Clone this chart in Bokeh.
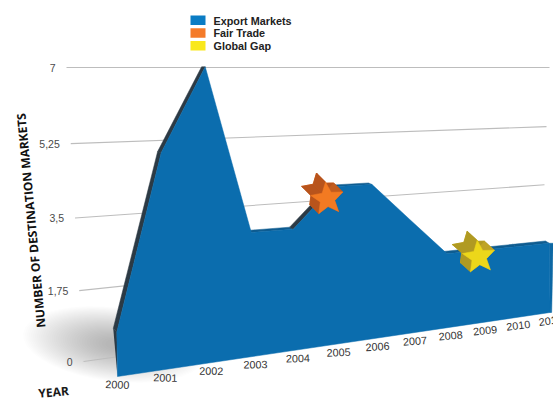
import math
from bokeh.core.properties import value
from bokeh.embed import file_html
from bokeh.models import Range1d
from bokeh.plotting import figure
from bokeh.resources import INLINE

# Series
years = [2000, 2001, 2002, 2003, 2004, 2005, 2006, 2007, 2008, 2009, 2010, 2011]
export_markets = [1, 5, 7, 3, 3, 4, 4, 3, 2, 2, 2, 2]
fair_trade = (2004.85, 3.7)
global_gap = (2008.9, 1.82)

value_ticks = [0, 1.75, 3.5, 5.25, 7]
value_tick_labels = ["0", "1,75", "3,5", "5,25", "7"]
legend_labels = ["Export Markets", "Fair Trade", "Global Gap"]

BLUE = "#0b6dae"
FONT_LIGHT = "#4a4a4a"


def project(year, val):
    """Perspective mapping of (year, value) on the front wall to page pixels."""
    t = year - years[0]
    base_x = 117 + 47.9 * t / (1 + 0.0198 * t)
    base_y = 376 - 0.148 * (base_x - 117)
    h = val * 44.5 / (1 + 0.026 * t)
    return base_x - 0.015 * h, base_y - h


def extrude(x, y):
    """Offset a front point along the depth direction."""
    return x - 3.6, y - (y - 67) * 0.013


p = figure(width=553, height=399, output_backend="svg", toolbar_location=None,
           x_range=Range1d(0, 553), y_range=Range1d(399, 0), min_border=0)
p.axis.visible = False
p.grid.visible = False
p.outline_line_color = None
p.background_fill_color = "white"
p.border_fill_color = "white"

# Soft ground shadow left of the wall
layers = 36
for i in range(layers):
    k = (1 - i / layers) ** 0.8
    a, b = 88 * k + 4, 34 * k + 3
    rot = math.radians(7)
    pts = [(a * math.cos(q / 36 * 2 * math.pi), b * math.sin(q / 36 * 2 * math.pi)) for q in range(36)]
    p.patch([114 + u * math.cos(rot) - v * math.sin(rot) for u, v in pts],
            [344 + u * math.sin(rot) + v * math.cos(rot) for u, v in pts],
            fill_color="#3c3c3c", fill_alpha=0.012, line_color=None)


# Back-wall gridlines converge on a vanishing point on the horizon
def grid_left(v):
    return 83 - v / 7 * 17, 361 - 40.0 * v - 0.286 * v * v


for v, label in zip(value_ticks, value_tick_labels):
    x0, y0 = grid_left(v)
    x1 = {0: 300, 1.75: 300, 3.5: 544, 5.25: 546, 7: 549}[v]
    y1 = y0 + (67 - y0) * (x1 - x0) / (2200 - x0)
    p.line([x0, x1], [y0, y1], line_color="#bdbdbd", line_width=1.1)
    p.text([x0 - 11], [y0 + 0.5], text=[label], text_align="right", text_baseline="middle",
           text_font=value("Liberation Sans"), text_font_size="10.5px", text_color=FONT_LIGHT)

# Extruded depth of the top edge
tops = [project(y, v) for y, v in zip(years, export_markets)]
base_left = project(years[0], 0)
base_right = project(years[-1], 0)

x0, y0 = tops[0]
ex, ey = extrude(x0, y0)
p.patch([x0, ex, base_left[0]], [y0, ey, base_left[1]], fill_color="#2c3a45", line_color=None)
for (xa, ya), (xb, yb) in zip(tops[:-1], tops[1:]):
    slope = (ya - yb) / (xb - xa)
    if slope < -0.2:
        continue
    colour = "#2c3a45" if slope > 1 else "#1c5378" if slope > 0.3 else "#0f5c90"
    eax, eay = extrude(xa, ya)
    ebx, eby = extrude(xb, yb)
    p.patch([xa, eax, ebx, xb], [ya, eay, eby, yb], fill_color=colour, line_color=colour, line_width=0.5)

# Front face of the area, with its narrow right-hand return
p.patch([tops[-1][0], tops[-1][0] + 4, base_right[0] + 1.5, base_right[0]],
        [tops[-1][1], tops[-1][1], base_right[1], base_right[1]],
        fill_color="#0d68a4", line_color="#0d68a4", line_width=0.5)
p.patch([t[0] for t in tops] + [base_right[0], base_left[0]],
        [t[1] for t in tops] + [base_right[1], base_left[1]],
        fill_color=BLUE, line_color=BLUE, line_width=0.5)


def star(cx, cy, radius, turn):
    pts = []
    for i in range(10):
        r = radius if i % 2 == 0 else radius * 0.45
        ang = math.radians(-90 + turn + i * 36)
        pts.append((cx + r * math.cos(ang), cy + r * math.sin(ang)))
    return pts


def draw_star(where, face, top, side, back, depth):
    cx, cy = project(*where)
    front = star(cx, cy, 17, -6)
    rear = [(x + depth[0], y + depth[1]) for x, y in front]
    p.patch([q[0] for q in rear], [q[1] for q in rear], fill_color=back, line_color=back)
    for i in range(10):
        a, b = front[i], front[(i + 1) % 10]
        ra, rb = rear[i], rear[(i + 1) % 10]
        shade = top if (b[0] - a[0]) > 0 else side
        p.patch([a[0], b[0], rb[0], ra[0]], [a[1], b[1], rb[1], ra[1]],
                fill_color=shade, line_color=shade, line_width=0.4)
    p.patch([q[0] for q in front], [q[1] for q in front], fill_color=face, line_color=face, line_width=0.5)


draw_star(fair_trade, "#f27a22", "#b8541c", "#c25c1e", "#d0641f", (-9, -9))
draw_star(global_gap, "#ecd71a", "#b09a22", "#bfa424", "#c2a828", (-10, -9))

# Year labels follow the base of the wall
for y in years:
    x, b = project(y, 0)
    t = y - years[0]
    bow = 3.2 * math.sin(math.pi * t / 11)
    p.text([x + bow], [b + 8], text=[str(y)], text_align="center", text_baseline="middle",
           angle=[math.radians(-2 + 0.9 * t)], text_font=value("Liberation Sans"),
           text_font_size="10.8px", text_color="#333333")

# Axis titles
p.text([30.5], [220], text=["NUMBER OF DESTINATION MARKETS"], text_align="center", text_baseline="middle",
       angle=[math.radians(95.4)], text_font=value("Open Sans"), text_font_style="bold",
       text_font_size="12px", text_color="#111111")
p.text([53], [391.5], text=["YEAR"], text_align="center", text_baseline="middle",
       angle=[math.radians(5)], text_font=value("Open Sans"), text_font_style="bold",
       text_font_size="12px", text_color="#1a1a1a")

# Legend
swatches = ["#0a7cc4", "#f47b2a", "#f9e81c"]
for i, (label, colour) in enumerate(zip(legend_labels, swatches)):
    top = 15 + i * 12.8
    p.quad(left=[190], right=[205], top=[top], bottom=[top + 9.5], fill_color=colour, line_color=None)
    p.text([213], [top + 5], text=[label], text_baseline="middle", text_font=value("Liberation Sans"),
           text_font_style="bold", text_font_size="10.8px", text_color="#222222")

open("out.html", "w").write(file_html(p, INLINE))
